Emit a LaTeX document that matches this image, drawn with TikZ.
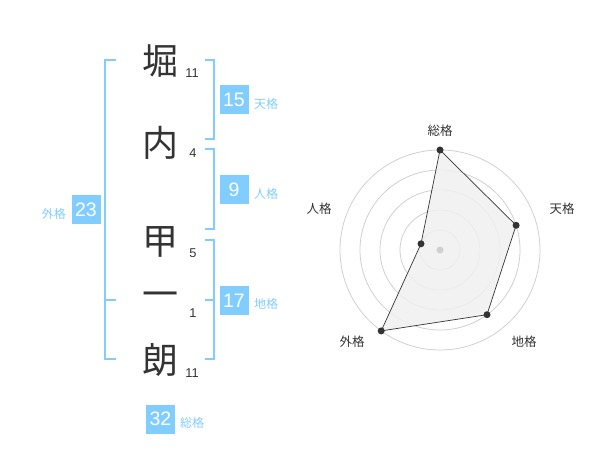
\documentclass[tikz,border=0pt]{standalone}
\usepackage{fontspec}
\setmainfont{Liberation Sans}
\newfontfamily\jp{Noto Sans CJK JP}
\definecolor{sky}{RGB}{130,205,255}
\definecolor{ink}{RGB}{51,51,51}
\definecolor{ring}{RGB}{208,208,208}
\definecolor{area}{RGB}{240,240,240}
\tikzset{
  kanji/.style={font=\jp\fontsize{36}{36}\selectfont, text=ink, inner sep=0pt},
  strokes/.style={font=\fontsize{12.8}{13}\selectfont, text=ink, inner sep=0pt},
  numbox/.style={fill=sky, text=white, minimum width=29pt, minimum height=29pt, inner sep=0pt, font=\fontsize{19.5}{20}\selectfont},
  kaku/.style={font=\jp\fontsize{12}{12}\selectfont, text=sky, inner sep=0pt},
  bracket/.style={draw=sky, line width=2pt},
  axislabel/.style={font=\jp\fontsize{12.5}{13}\selectfont, text=ink, inner sep=0pt},
  dot/.style={circle, fill=ink, minimum size=7pt, inner sep=0pt},
}
\begin{document}
\begin{tikzpicture}[x=1pt,y=-1pt]
\useasboundingbox (0,0) rectangle (600,470);
% kanji
\node[kanji] (k1) at (160,61) {堀};
\node[kanji] (k2) at (160,143) {内};
\node[kanji] (k3) at (160,242) {甲};
\node[kanji] (k4) at (160,300) {一};
\node[kanji] (k5) at (160,360) {朗};
% stroke counts
\node[strokes] (s1) at (192,73) {11};
\node[strokes] (s2) at (193,153) {4};
\node[strokes] (s3) at (193,253) {5};
\node[strokes] (s4) at (193,313) {1};
\node[strokes] (s5) at (192,373) {11};
% brackets
\draw[bracket] (205,60) -- (214,60) -- (214,139) -- (205,139);
\draw[bracket] (205,149) -- (214,149) -- (214,229) -- (205,229);
\draw[bracket] (205,240) -- (214,240) -- (214,359) -- (205,359);
\draw[bracket] (205,300) -- (214,300);
\draw[bracket] (116,60) -- (105,60) -- (105,359) -- (116,359);
\draw[bracket] (105,300) -- (116,300);
% boxes
\node[numbox] (ten) at (234,100) {15};
\node[kaku, anchor=west] (tenl) at (254,104) {天格};
\node[numbox] (jin) at (234,190) {9};
\node[kaku, anchor=west] (jinl) at (254,194) {人格};
\node[numbox] (chi) at (234,300.5) {17};
\node[kaku, anchor=west] (chil) at (254,304) {地格};
\node[numbox] (gai) at (86,210) {23};
\node[kaku, anchor=east] (gail) at (66,214) {外格};
\node[numbox] (sou) at (160.5,419) {32};
\node[kaku, anchor=west] (soul) at (180,423) {総格};
% radar
\coordinate (c) at (440,250);
\foreach \r in {20,40,60,80,100} \draw[ring, line width=0.8pt] (c) circle[radius=\r];
\coordinate (pS) at (440,150);
\coordinate (pT) at (516.1,225.3);
\coordinate (pC) at (487.0,314.7);
\coordinate (pG) at (381.2,330.9);
\coordinate (pJ) at (421.0,243.8);
\filldraw[fill=area, fill opacity=0.85, draw=ink, line width=0.7pt] (pS) -- (pT) -- (pC) -- (pG) -- (pJ) -- cycle;
\node[circle, fill=ring, minimum size=7pt, inner sep=0pt] (cd) at (c) {};
\foreach \p in {pS,pT,pC,pG,pJ} \node[dot] at (\p) {};
\node[axislabel] (lS) at (440,131) {総格};
\node[axislabel] (lT) at (562,209) {天格};
\node[axislabel] (lC) at (524,342) {地格};
\node[axislabel] (lG) at (352,342) {外格};
\node[axislabel] (lJ) at (319,209) {人格};
\end{tikzpicture}
\end{document}
